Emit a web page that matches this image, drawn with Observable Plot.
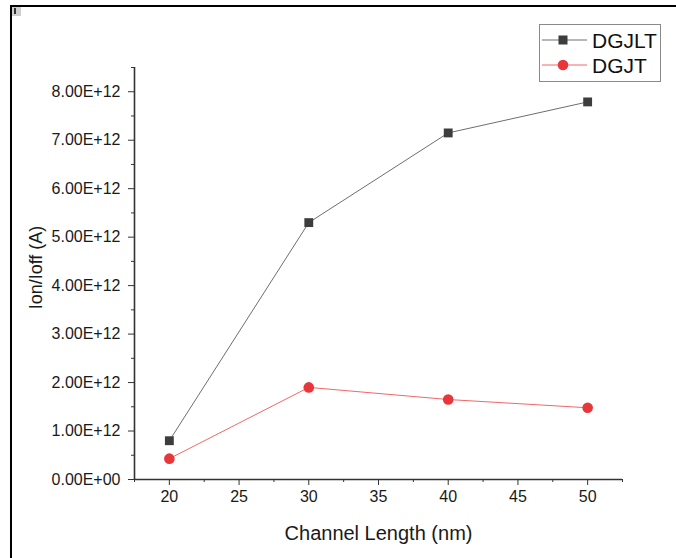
<!DOCTYPE html>
<html><head><meta charset="utf-8">
<script src="https://cdn.jsdelivr.net/npm/d3@7"></script>
<script src="https://cdn.jsdelivr.net/npm/@observablehq/plot@0.6"></script>
<style>
body{margin:0;background:#fff;}
#wrap{position:relative;width:676px;height:558px;overflow:hidden;font-family:Arial,"Liberation Sans",sans-serif;background:#fff;}
#wrap svg.plot{position:absolute;left:0;top:0;}
.frameTop{position:absolute;left:10px;top:5px;width:666px;height:2px;background:#000;}
.frameLeft{position:absolute;left:10px;top:5px;width:2px;height:553px;background:#000;}
.corner{position:absolute;left:12px;top:7px;width:9px;height:9px;background:#cfcfcf;}
.corner::after{content:"";position:absolute;left:2px;top:1px;width:2px;height:6px;background:#333;}
#legend{position:absolute;left:0;top:0;}
</style></head><body><div id="wrap"><div class="frameTop"></div><div class="frameLeft"></div><div class="corner"></div></div>
<script>
const channelLength = [20, 30, 40, 50];
const dgjlt = [0.80e12, 5.30e12, 7.15e12, 7.79e12];
const dgjt = [0.43e12, 1.90e12, 1.65e12, 1.48e12];
const seriesNames = ["DGJLT", "DGJT"];
const xTicks = [20, 25, 30, 35, 40, 45, 50];
const xMinor = [17.5, 22.5, 27.5, 32.5, 37.5, 42.5, 47.5, 52.5];
const yTicks = [0, 1e12, 2e12, 3e12, 4e12, 5e12, 6e12, 7e12, 8e12];
const yMinor = [0.5e12, 1.5e12, 2.5e12, 3.5e12, 4.5e12, 5.5e12, 6.5e12, 7.5e12, 8.5e12];
const xLabel = "Channel Length (nm)";
const yLabel = "Ion/Ioff (A)";

const colors = {DGJLT: {line: "#6e6e6e", dot: "#3d3d3d"}, DGJT: {line: "#f06868", dot: "#e8363b"}};

const fmt = d => {
  const [m, e] = d.toExponential(2).split("e");
  const sign = e[0] === "-" ? "-" : "+";
  return m + "E" + sign + String(Math.abs(+e)).padStart(2, "0");
};

const rowsA = channelLength.map((x, i) => ({x, y: dgjlt[i], s: seriesNames[0]}));
const rowsB = channelLength.map((x, i) => ({x, y: dgjt[i], s: seriesNames[1]}));

const font = "Arial, 'Liberation Sans', sans-serif";
const chart = Plot.plot({
  width: 676, height: 558,
  marginLeft: 134, marginRight: 54, marginTop: 67, marginBottom: 79,
  x: {domain: [17.5, 52.5]},
  y: {domain: [0, 8.5e12]},
  style: {fontFamily: font, color: "#1a1a1a", background: "transparent", overflow: "visible"},
  marks: [
    Plot.axisX({ticks: xTicks, tickSize: 6, tickPadding: 5, fontSize: 16, label: null, stroke: "#333", tickFormat: d => String(d)}),
    Plot.axisX({ticks: xMinor, tickSize: 3, text: null, label: null, stroke: "#333"}),
    Plot.axisY({ticks: yTicks, tickSize: 6, tickPadding: 8, tickFormat: fmt, fontSize: 16, label: null, stroke: "#333"}),
    Plot.axisY({ticks: yMinor, tickSize: 3, text: null, label: null, stroke: "#333"}),
    Plot.ruleY([0], {stroke: "#333", strokeWidth: 1.6}),
    Plot.ruleX([17.5], {stroke: "#333", strokeWidth: 1.6}),
    Plot.line(rowsA, {x: "x", y: "y", stroke: colors.DGJLT.line, strokeWidth: 1}),
    Plot.line(rowsB, {x: "x", y: "y", stroke: colors.DGJT.line, strokeWidth: 1}),
    Plot.dot(rowsA, {x: "x", y: "y", symbol: "square", r: 5, fill: colors.DGJLT.dot, stroke: "none"}),
    Plot.dot(rowsB, {x: "x", y: "y", symbol: "circle", r: 5.3, fill: colors.DGJT.dot, stroke: "none"}),
    Plot.text([xLabel], {text: d => d, frameAnchor: "bottom", textAnchor: "middle", lineAnchor: "middle", dy: 54, fontSize: 20, fill: "#1a1a1a"}),
    Plot.text([yLabel], {text: d => d, frameAnchor: "left", textAnchor: "middle", lineAnchor: "middle", dx: -98, dy: -6, rotate: -90, fontSize: 18, fill: "#1a1a1a"})
  ]
});
chart.classList.add("plot");
document.getElementById("wrap").appendChild(chart);

// Legend
const ns = "http://www.w3.org/2000/svg";
const lg = document.createElementNS(ns, "svg");
lg.setAttribute("id", "legend");
lg.setAttribute("width", 676); lg.setAttribute("height", 120);
const mk = (tag, attrs) => { const e = document.createElementNS(ns, tag); for (const k in attrs) e.setAttribute(k, attrs[k]); lg.appendChild(e); return e; };
mk("rect", {x: 539.5, y: 24.5, width: 121, height: 57, fill: "#fff", stroke: "#8a8a8a", "stroke-width": 1});
seriesNames.forEach((name, i) => {
  const cy = 40 + i * 25;
  mk("line", {x1: 542, x2: 587, y1: cy, y2: cy, stroke: colors[name].line, "stroke-width": 1});
  if (i === 0) mk("rect", {x: 558.5, y: cy - 4.5, width: 9, height: 9, fill: colors[name].dot});
  else mk("circle", {cx: 563, cy: cy, r: 5.3, fill: colors[name].dot});
  const t = mk("text", {x: 592, y: cy, "font-size": 21, "font-family": font, fill: "#111", "dominant-baseline": "central"});
  t.textContent = name;
});
document.getElementById("wrap").appendChild(lg);
</script>
</body></html>
